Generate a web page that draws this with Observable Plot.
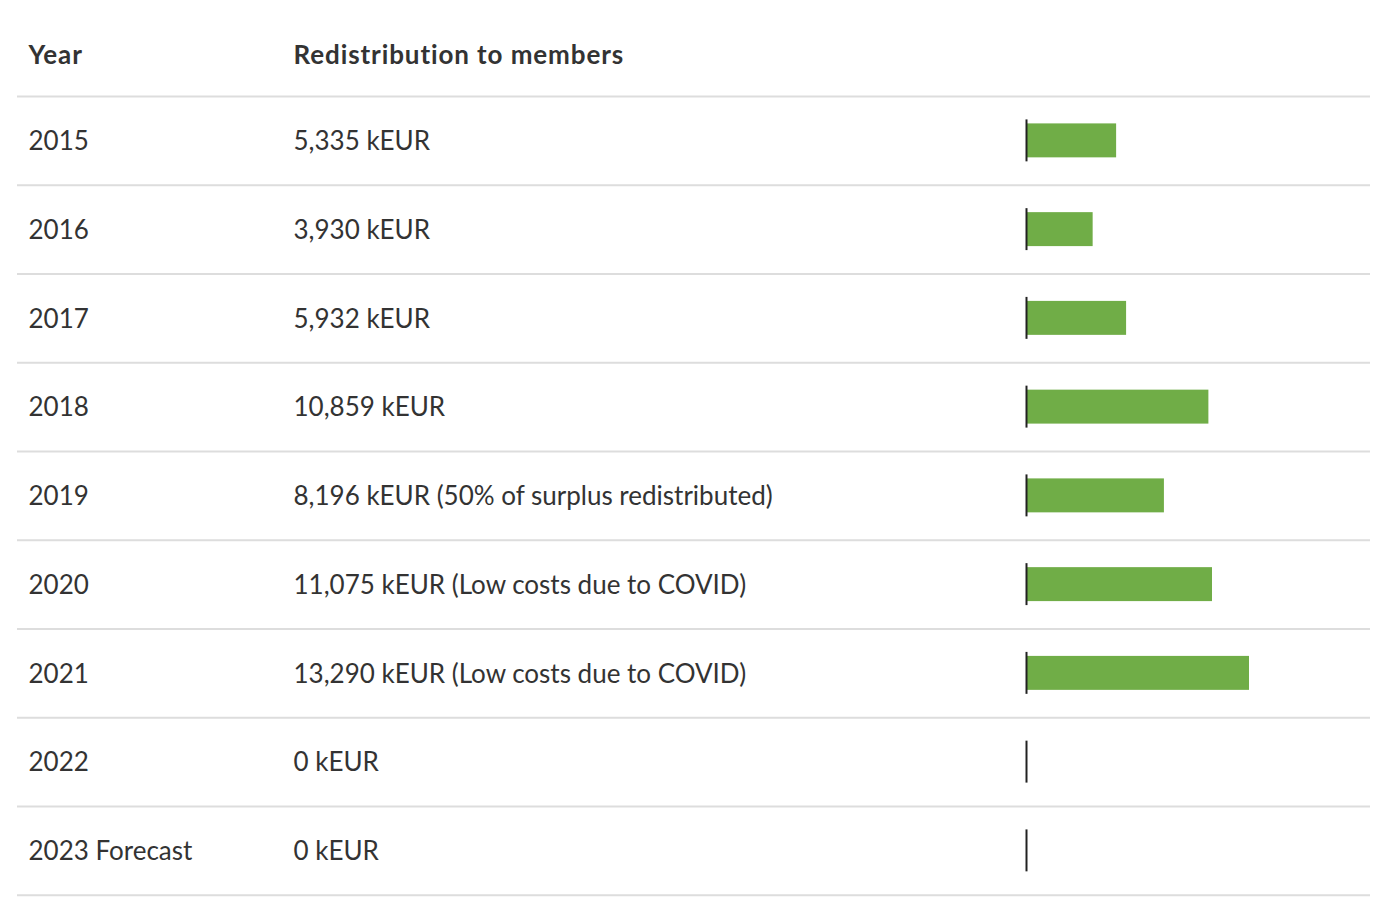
<!DOCTYPE html>
<html>
<head>
<meta charset="utf-8">
<script src="https://cdn.jsdelivr.net/npm/d3@7"></script>
<script src="https://cdn.jsdelivr.net/npm/@observablehq/plot@0.6"></script>
<style>
  html, body { margin: 0; padding: 0; background: #fff; }
  #chart svg { display: block; }
  #chart svg g[font-weight="bold"] { letter-spacing: 0.9px; }
</style>
</head>
<body>
<div id="chart"></div>
<script>
const years = ["2015", "2016", "2017", "2018", "2019", "2020", "2021", "2022", "2023 Forecast"];
const values = [5335, 3930, 5932, 10859, 8196, 11075, 13290, 0, 0];
const notes = ["", "", "", "", " (50% of surplus redistributed)", " (Low costs due to COVID)", " (Low costs due to COVID)", "", ""];
const headers = ["Year", "Redistribution to members"];

const fmt = d3.format(",");
const rows = years.map((y, i) => ({year: y, value: values[i], label: fmt(values[i]) + " kEUR" + notes[i]}));
const bandDomain = ["__header__", ...years];

const textColor = "#333333";
const font = "Lato, 'Source Sans Pro', sans-serif";

const chart = Plot.plot({
  width: 1384,
  height: 904,
  marginLeft: 17,
  marginRight: 14,
  marginTop: 0,
  marginBottom: 0,
  style: {fontFamily: font, background: "#fff"},
  x: {domain: [0, 13290], range: [1027, 1249], axis: null},
  y: {domain: bandDomain, range: [7.25, 894.75], padding: 0, round: false, axis: null},
  marks: [
    // row separators at the bottom of each band
    Plot.ruleY(bandDomain, {y: d => d, dy: 44.375, stroke: "#dddddd", strokeWidth: 2}),
    // header
    Plot.text(headers.slice(0, 1), {y: () => "__header__", text: d => d, frameAnchor: "left", dx: 11, dy: 4, fontSize: 26, fontWeight: "bold", fill: textColor}),
    Plot.text(headers.slice(1), {y: () => "__header__", text: d => d, frameAnchor: "left", dx: 276, dy: 4, fontSize: 26, fontWeight: "bold", fill: textColor}),
    // row texts
    Plot.text(rows, {y: "year", text: "year", frameAnchor: "left", dx: 11, dy: 1, fontSize: 26, fill: textColor}),
    Plot.text(rows, {y: "year", text: "label", frameAnchor: "left", dx: 276, dy: 1, fontSize: 26, fill: textColor}),
    // bars
    Plot.barX(rows, {x: "value", y: "year", fill: "#70ad47", insetTop: 27.4, insetBottom: 27.4}),
    // zero baseline ticks
    Plot.tickX(rows, {x: () => 0, y: "year", dx: -1, stroke: "#222222", strokeWidth: 2, insetTop: 23.4, insetBottom: 23.4})
  ]
});

document.getElementById("chart").appendChild(chart);
</script>
</body>
</html>
